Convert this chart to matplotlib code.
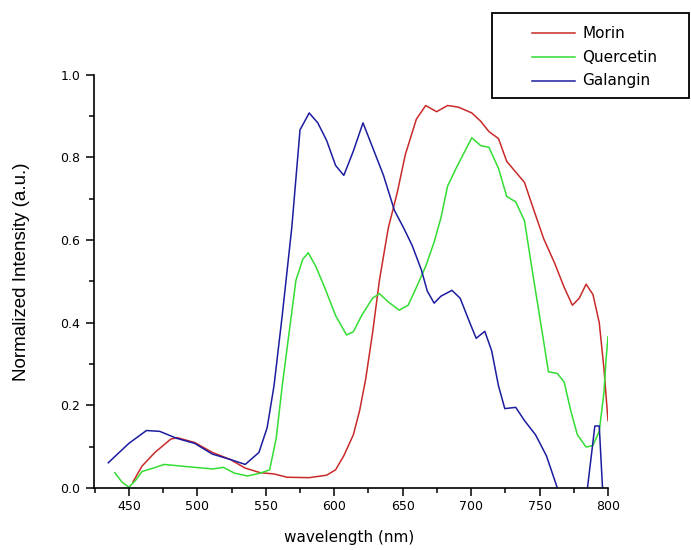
import matplotlib
matplotlib.use("Agg")
import matplotlib.pyplot as plt
from matplotlib.ticker import MultipleLocator
from matplotlib.patches import Rectangle
from matplotlib.lines import Line2D

# emission spectra, normalized
morin_nm = [453, 459.6, 469, 480.5, 485, 498, 511, 524, 535, 546, 556, 565.6, 581.7,
            594.5, 601, 607, 614, 618.6, 623, 628, 633, 639.5, 646, 652, 660, 666.8,
            674.8, 682.8, 690.8, 700.5, 707, 713, 720, 726, 732.6, 739, 745, 753, 761,
            768, 774, 779, 784, 789, 793.6, 797, 800]
morin_int = [0.015, 0.053, 0.086, 0.118, 0.122, 0.110, 0.086, 0.069, 0.048, 0.037, 0.034,
             0.026, 0.025, 0.031, 0.044, 0.078, 0.129, 0.188, 0.264, 0.375, 0.502, 0.629,
             0.714, 0.807, 0.892, 0.925, 0.910, 0.925, 0.921, 0.907, 0.887, 0.862, 0.845,
             0.790, 0.764, 0.739, 0.680, 0.603, 0.544, 0.485, 0.442, 0.459, 0.493, 0.468,
             0.400, 0.290, 0.163]

quercetin_nm = [439.7, 445, 450, 455, 459.6, 467.7, 475.7, 485, 498, 511, 519, 527, 536.7,
                546, 552.8, 557.6, 562, 567, 572, 577, 581, 586.5, 593, 601, 609, 614, 620,
                628, 633, 639.5, 647.5, 654, 660, 666.8, 673, 678, 682.8, 689, 695.5, 700.5,
                707, 713, 720, 726, 732.6, 739, 745, 752, 756.5, 763, 768, 772.7, 777.6, 784,
                789, 793.6, 797, 798.5, 800]
quercetin_int = [0.037, 0.014, 0.002, 0.019, 0.040, 0.048, 0.057, 0.054, 0.050, 0.046, 0.050,
                 0.036, 0.029, 0.036, 0.044, 0.120, 0.247, 0.375, 0.502, 0.553, 0.569, 0.536,
                 0.485, 0.417, 0.370, 0.378, 0.417, 0.459, 0.470, 0.450, 0.430, 0.442, 0.485,
                 0.536, 0.595, 0.654, 0.730, 0.773, 0.815, 0.847, 0.828, 0.824, 0.773, 0.705,
                 0.692, 0.646, 0.519, 0.375, 0.281, 0.277, 0.256, 0.188, 0.129, 0.099, 0.103,
                 0.137, 0.230, 0.307, 0.366]

galangin_nm = [434.9, 450, 462.8, 472.5, 485, 498, 511, 524, 535, 545, 551, 556, 562, 569,
               575, 581.7, 588, 594.5, 601, 607, 614, 621, 628, 636, 644, 650.7, 657, 663.7,
               668, 673, 678, 686, 692, 699, 703.7, 710, 715, 720, 724.6, 732.6, 739, 747,
               755, 763, 770, 778, 785, 790.4, 793.6, 796, 800]
galangin_int = [0.061, 0.108, 0.139, 0.137, 0.120, 0.108, 0.082, 0.069, 0.057, 0.086, 0.146,
                0.247, 0.417, 0.630, 0.866, 0.907, 0.883, 0.840, 0.780, 0.756, 0.815, 0.883,
                0.824, 0.756, 0.671, 0.629, 0.586, 0.527, 0.476, 0.447, 0.464, 0.478, 0.459,
                0.400, 0.362, 0.379, 0.332, 0.247, 0.192, 0.195, 0.163, 0.129, 0.078, 0.000,
                -0.06, -0.06, 0.000, 0.150, 0.150, 0.000, -0.06]

names = ["Morin", "Quercetin", "Galangin"]
cols = ["#c92a2a", "#33dd33", "#1c1ca0"]

plt.rcParams['font.family'] = ['DejaVu Sans']

W, H = 691, 550
fig = plt.figure(figsize=(W / 100, H / 100), dpi=100)
ax = fig.add_axes([94 / W, 62 / H, 514 / W, 413.5 / H])

ax.plot(morin_nm, morin_int, color=cols[0], lw=1.1)
ax.plot(quercetin_nm, quercetin_int, color=cols[1], lw=1.1)
ax.plot(galangin_nm, galangin_int, color=cols[2], lw=1.1)

ax.set_xlim(424.5, 800)
ax.set_ylim(0, 1.0)
ax.spines['top'].set_visible(False)
ax.spines['right'].set_visible(False)
for s in ['left', 'bottom']:
    ax.spines[s].set_linewidth(1.2)

ax.xaxis.set_minor_locator(MultipleLocator(25))
ax.yaxis.set_minor_locator(MultipleLocator(0.1))
ax.set_xticks([450, 500, 550, 600, 650, 700, 750, 800])
ax.set_yticks([0.0, 0.2, 0.4, 0.6, 0.8, 1.0])
ax.set_yticklabels(["0.0", "0.2", "0.4", "0.6", "0.8", "1.0"])
ax.tick_params(which='major', direction='out', length=6, width=1.1, labelsize=9, colors='black')
ax.tick_params(which='minor', direction='out', length=3.5, width=1.1)
ax.tick_params(axis='x', pad=3)
ax.tick_params(axis='y', pad=4)

ax.set_xlabel("wavelength (nm)", fontsize=11)
ax.xaxis.set_label_coords(0.496, -0.102)
ax.set_ylabel("Normalized Intensity (a.u.)", fontsize=13.5, family='Liberation Sans')
ax.yaxis.set_label_coords(-0.124, 0.522)

# legend box, drawn by hand so it can run to the right edge
x0, y0, x1, y1 = 492, 13, 689, 98
fig.add_artist(Rectangle((x0 / W, 1 - y1 / H), (x1 - x0) / W, (y1 - y0) / H,
                         transform=fig.transFigure, fill=False, edgecolor='black', lw=1.3))
for i, (nm, c) in enumerate(zip(names, cols)):
    yy = 1 - (33 + 24 * i) / H
    fig.add_artist(Line2D([532 / W, 575 / W], [yy, yy], transform=fig.transFigure,
                          color=c, lw=1.1))
    fig.text(582 / W, yy, nm, fontsize=11, va='center', ha='left')

fig.savefig("out.png", dpi=100)
